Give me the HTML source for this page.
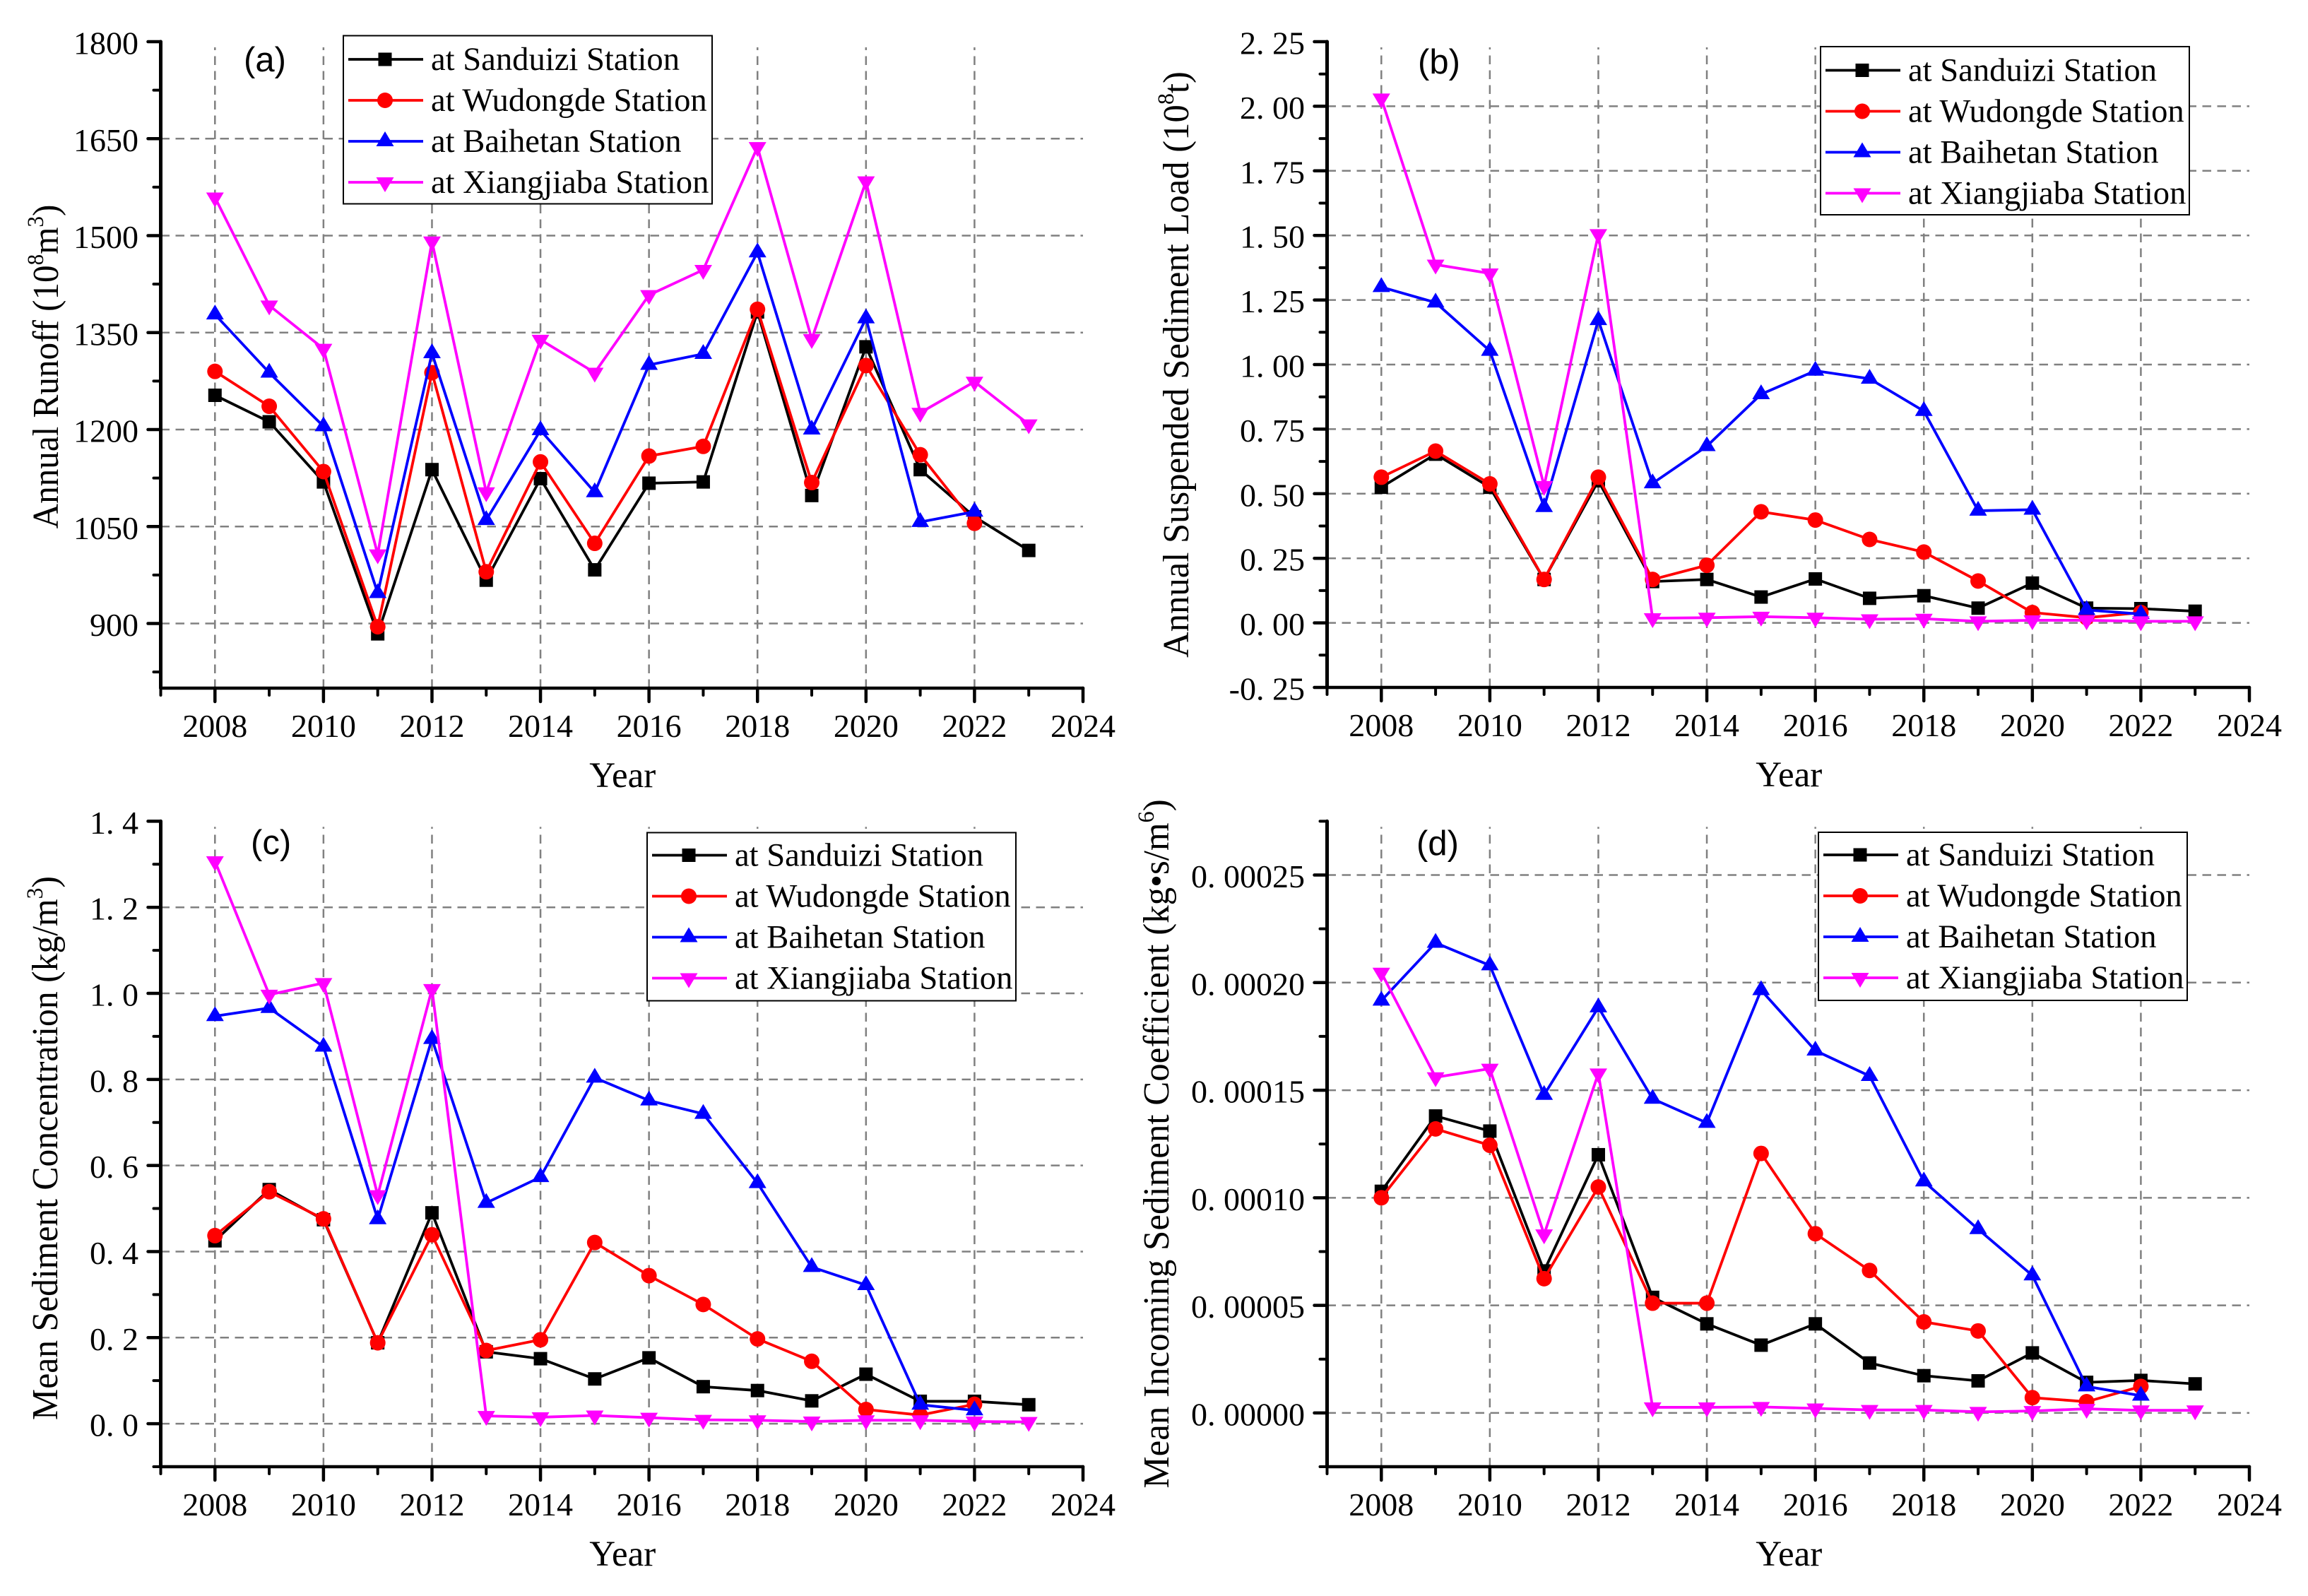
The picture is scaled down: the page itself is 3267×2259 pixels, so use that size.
<!DOCTYPE html>
<html lang="en">
<head>
<meta charset="utf-8">
<title>Runoff and sediment charts</title>
<style>
html,body{margin:0;padding:0;background:#fff;width:3267px;height:2259px;overflow:hidden}
svg{display:block}
text{font-family:"Liberation Serif",serif;fill:#000}
.pl{font-family:"Liberation Sans",sans-serif}
</style>
</head>
<body>
<svg id="chart" xmlns="http://www.w3.org/2000/svg" width="3267" height="2259" viewBox="0 0 3267 2259"></svg>
<script>
const years = [2008,2009,2010,2011,2012,2013,2014,2015,2016,2017,2018,2019,2020,2021,2022,2023];
const xTickLabels = ['2008','2010','2012','2014','2016','2018','2020','2022','2024'];
const seriesNames = ['at Sanduizi Station','at Wudongde Station','at Baihetan Station','at Xiangjiaba Station'];

const runoffTicks = ['900','1050','1200','1350','1500','1650','1800'];
const runoffSanduizi = [1253,1212,1119,884,1138,967,1124,983,1117,1119,1382,1098,1328,1138,1065,1013];
const runoffWudongde = [1290,1236,1135,895,1288,980,1150,1024,1159,1174,1386,1118,1299,1161,1055];
const runoffBaihetan = [1378,1288,1205,947,1318,1060,1199,1103,1300,1317,1474,1200,1372,1057,1073];
const runoffXiangjiaba = [1559,1392,1325,1007,1491,1103,1339,1288,1408,1447,1637,1340,1584,1226,1274,1208];

const loadTicks = ['-0.25','0.00','0.25','0.50','0.75','1.00','1.25','1.50','1.75','2.00','2.25'];
const loadSanduizi = [0.525,0.653,0.525,0.168,0.55,0.16,0.168,0.10,0.17,0.095,0.105,0.057,0.154,0.057,0.055,0.045];
const loadWudongde = [0.564,0.665,0.538,0.168,0.564,0.168,0.223,0.43,0.398,0.323,0.274,0.162,0.04,0.02,0.04];
const loadBaihetan = [1.30,1.24,1.053,0.448,1.172,0.54,0.684,0.885,0.976,0.945,0.82,0.434,0.438,0.05,0.034];
const loadXiangjiaba = [2.03,1.387,1.353,0.53,1.505,0.018,0.02,0.024,0.02,0.014,0.016,0.006,0.01,0.01,0.006,0.006];

const concTicks = ['0.0','0.2','0.4','0.6','0.8','1.0','1.2','1.4'];
const concSanduizi = [0.425,0.544,0.474,0.188,0.49,0.167,0.151,0.104,0.153,0.086,0.077,0.053,0.115,0.052,0.052,0.044];
const concWudongde = [0.437,0.539,0.476,0.188,0.439,0.17,0.195,0.421,0.344,0.277,0.197,0.145,0.033,0.02,0.045];
const concBaihetan = [0.947,0.966,0.876,0.475,0.894,0.513,0.573,0.804,0.751,0.72,0.559,0.364,0.322,0.044,0.031];
const concXiangjiaba = [1.307,0.997,1.024,0.531,1.01,0.018,0.015,0.019,0.014,0.009,0.008,0.005,0.008,0.008,0.005,0.004];

const coefTicks = ['0.00000','0.00005','0.00010','0.00015','0.00020','0.00025'];
const coefSanduizi = [0.000103,0.000138,0.000131,0.000066,0.00012,0.0000537,0.0000414,0.0000315,0.0000414,0.0000232,0.0000173,0.0000149,0.0000279,0.0000142,0.0000151,0.0000135];
const coefWudongde = [0.0001,0.000132,0.0001244,0.0000624,0.000105,0.000051,0.000051,0.0001206,0.0000833,0.0000662,0.0000423,0.0000381,0.0000071,0.0000052,0.0000123];
const coefBaihetan = [0.0001916,0.0002185,0.000208,0.0001478,0.0001885,0.000146,0.0001348,0.0001965,0.0001684,0.0001566,0.0001076,0.0000854,0.0000639,0.0000123,0.000008];
const coefXiangjiaba = [0.0002046,0.000156,0.00016,0.000083,0.0001578,0.0000026,0.0000026,0.0000028,0.0000021,0.0000014,0.0000014,0.0000005,0.0000009,0.0000019,0.0000012,0.0000012];

const colors = ['#000000','#ff0000','#0000ff','#ff00ff'];
const markerKinds = ['square','circle','up','down'];
const svg = document.getElementById('chart');
const NS = 'http://www.w3.org/2000/svg';

function mk(tag, attrs, parent) {
  const e = document.createElementNS(NS, tag);
  for (const k in attrs) e.setAttribute(k, attrs[k]);
  parent.appendChild(e);
  return e;
}

function drawMarker(parent, kind, x, y, color) {
  if (kind === 'square') return mk('rect', {x: x - 9.5, y: y - 9.5, width: 19, height: 19, fill: color}, parent);
  if (kind === 'circle') return mk('circle', {cx: x, cy: y, r: 11, fill: color}, parent);
  if (kind === 'up') return mk('polygon', {points: `${x - 12.5},${y + 7} ${x + 12.5},${y + 7} ${x},${y - 14}`, fill: color}, parent);
  return mk('polygon', {points: `${x - 12.5},${y - 7} ${x + 12.5},${y - 7} ${x},${y + 14}`, fill: color}, parent);
}

function addTickText(parent, label, x, y, anchor) {
  const t = mk('text', {x: x, y: y, 'font-size': 46, 'text-anchor': anchor}, parent);
  const parts = label.split('.');
  t.appendChild(document.createTextNode(parts[0] + (parts.length > 1 ? '.' : '')));
  if (parts.length > 1) {
    const s = mk('tspan', {dx: 11.5}, t);
    s.textContent = parts[1];
  }
  return t;
}

function drawPanel(p) {
  const g = mk('g', {}, svg);
  
  

  const sx = v => p.left + (v - 2007) / (2024 - 2007) * (p.right - p.left);
  const sy = v => p.bottom - (v - p.yMin) / (p.yMax - p.yMin) * (p.bottom - p.top);
  const majors = p.ticks.map(Number);
  const step = majors[1] - majors[0];

  // gridlines
  const grid = mk('g', {stroke: '#808080', 'stroke-width': 2.5, 'stroke-dasharray': '12.5 8.5', fill: 'none'}, g);
  
  
  majors.forEach(v => {
    if (Math.abs(v - p.yMax) < step / 100 || Math.abs(v - p.yMin) < step / 100) return;
    const l = mk('line', {x1: p.left, x2: p.right, y1: sy(v), y2: sy(v)}, grid);
    
    
  });
  xTickLabels.slice(0, -1).forEach(lbl => {
    const v = Number(lbl);
    const l = mk('line', {x1: sx(v), x2: sx(v), y1: p.bottom, y2: p.top + 8}, grid);
    
    
  });

  // axes
  const axes = mk('g', {stroke: '#000', fill: 'none', 'stroke-linecap': 'round'}, g);
  
  
  const yAxis = mk('line', {x1: p.left, x2: p.left, y1: p.top, y2: p.bottom, 'stroke-width': 5}, axes);
  
  
  const xAxis = mk('line', {x1: p.left, x2: p.right, y1: p.bottom, y2: p.bottom, 'stroke-width': 4.5}, axes);
  
  

  majors.forEach((v, i) => {
    const l = mk('line', {x1: p.left, x2: p.left - 18, y1: sy(v), y2: sy(v), 'stroke-width': 4.5}, axes);
    
    
    const t = addTickText(g, p.ticks[i], p.left - 31.5, sy(v) + 17.5, 'end');
    
    
  });
  for (let v = majors[0] - step / 2; v <= p.yMax + step / 100; v += step) {
    if (v < p.yMin - step / 100) continue;
    if (Math.abs(v - p.yMin) < step / 100 && p.noBottomMinor) continue;
    const l = mk('line', {x1: p.left, x2: p.left - 10, y1: sy(v), y2: sy(v), 'stroke-width': 4}, axes);
    
    
  }
  for (let yr = 2007; yr <= 2024; yr++) {
    const major = yr % 2 === 0;
    const l = mk('line', {x1: sx(yr), x2: sx(yr), y1: p.bottom, y2: p.bottom + (major ? 19 : 10), 'stroke-width': major ? 4.5 : 4}, axes);
    
    
  }
  xTickLabels.forEach(lbl => {
    const t = addTickText(g, lbl, sx(Number(lbl)), p.bottom + 69, 'middle');
    
    
  });

  // axis titles
  const xt = mk('text', {x: (p.left + p.right) / 2 + 1, y: p.bottom + 140, 'font-size': 51, 'text-anchor': 'middle'}, g);
  xt.textContent = 'Year';
  
  

  const yt = mk('text', {transform: `translate(${p.titleX},${p.titleY}) rotate(-90) scale(${p.titleScale},1)`, 'font-size': 52, 'text-anchor': 'middle'}, g);
  
  
  let raised = false;
  p.titleParts.forEach(part => {
    const sup = part[0] === '^';
    const s = mk('tspan', {}, yt);
    if (sup) { s.setAttribute('font-size', 33); s.setAttribute('dy', -21); raised = true; }
    else if (raised) { s.setAttribute('dy', 21); raised = false; }
    s.textContent = sup ? part.slice(1) : part;
  });

  // series
  p.series.forEach((vals, si) => {
    const sg = mk('g', {}, g);
    
    
    const pts = vals.map((v, i) => `${sx(years[i])},${sy(v)}`).join(' ');
    const line = mk('polyline', {points: pts, fill: 'none', stroke: colors[si], 'stroke-width': 3.8, 'stroke-linejoin': 'miter'}, sg);
    
    
    vals.forEach((v, i) => {
      const m = drawMarker(sg, markerKinds[si], sx(years[i]), sy(v), colors[si]);
      
      
    });
  });

  // panel label
  const lab = mk('text', {x: p.labelX, y: p.labelY, 'font-size': 49, class: 'pl'}, g);
  lab.textContent = `(${p.id})`;
  
  

  // legend
  const lg = mk('g', {}, g);
  
  
  const box = mk('rect', {x: p.legX, y: p.legY, width: 522, height: 238, fill: '#fff', stroke: '#000', 'stroke-width': 2}, lg);
  
  
  seriesNames.forEach((name, i) => {
    const y = p.legY + p.legOffset + i * 58;
    const e = mk('g', {}, lg);
    
    
    mk('line', {x1: p.legX + 7, x2: p.legX + 113, y1: y, y2: y, stroke: colors[i], 'stroke-width': 3.8}, e);
    drawMarker(e, markerKinds[i], p.legX + 59, y, colors[i]);
    const t = mk('text', {x: p.legX + 124, y: y + 15, 'font-size': 46.6}, e);
    t.textContent = name;
  });
}

drawPanel({
  id: 'a', left: 227.5, right: 1533, top: 59, bottom: 974, yMin: 800, yMax: 1800,
  ticks: runoffTicks, series: [runoffSanduizi, runoffWudongde, runoffBaihetan, runoffXiangjiaba],
  titleX: 82, titleY: 519, titleScale: 0.945, titleParts: ['Annual Runoff (10', '^8', 'm', '^3', ')'],
  labelX: 345, labelY: 101, legX: 486, legY: 50.5, legOffset: 33.5
});
drawPanel({
  id: 'b', left: 1878.5, right: 3184, top: 59, bottom: 973, yMin: -0.25, yMax: 2.25,
  ticks: loadTicks, series: [loadSanduizi, loadWudongde, loadBaihetan, loadXiangjiaba],
  titleX: 1682, titleY: 516, titleScale: 0.975, titleParts: ['Annual Suspended Sediment Load (10', '^8', 't)'],
  labelX: 2007, labelY: 104, legX: 2577, legY: 66, legOffset: 33.5, noBottomMinor: true
});
drawPanel({
  id: 'c', left: 227.5, right: 1533, top: 1162.4, bottom: 2076, yMin: -0.1, yMax: 1.4,
  ticks: concTicks, series: [concSanduizi, concWudongde, concBaihetan, concXiangjiaba],
  titleX: 81, titleY: 1625, titleScale: 0.955, titleParts: ['Mean Sediment Concentration (kg/m', '^3', ')'],
  labelX: 355, labelY: 1209, legX: 916, legY: 1178.5, legOffset: 32
});
drawPanel({
  id: 'd', left: 1878.5, right: 3184, top: 1162.4, bottom: 2076, yMin: -0.000025, yMax: 0.000275,
  ticks: coefTicks, series: [coefSanduizi, coefWudongde, coefBaihetan, coefXiangjiaba],
  titleX: 1654, titleY: 1619, titleScale: 0.98, titleParts: ['Mean Incoming Sediment Coefficient (kg\u2022s/m', '^6', ')'],
  labelX: 2005, labelY: 1210, legX: 2574, legY: 1178, legOffset: 32
});
</script>
</body>
</html>
